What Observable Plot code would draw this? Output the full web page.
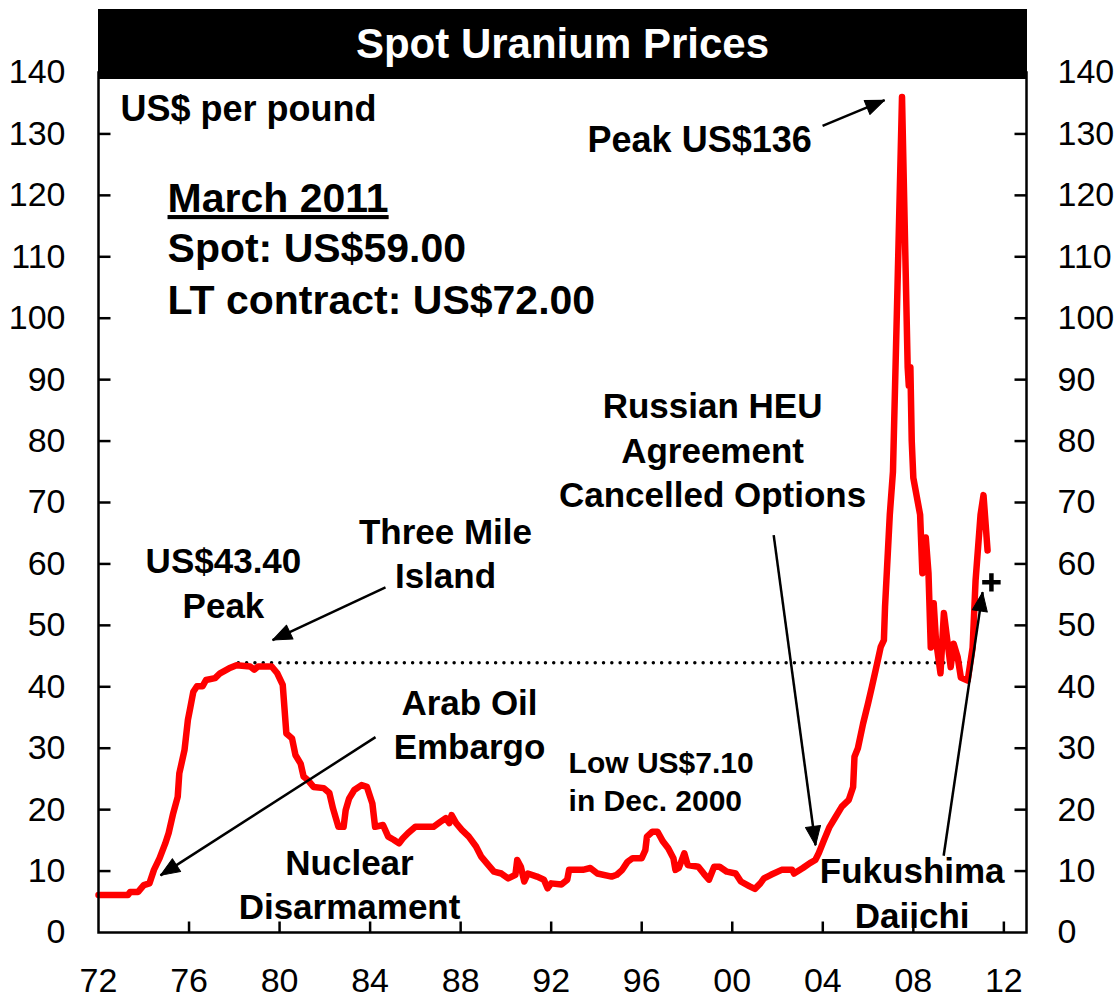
<!DOCTYPE html>
<html><head><meta charset="utf-8">
<script src="https://cdn.jsdelivr.net/npm/d3@7"></script>
<script src="https://cdn.jsdelivr.net/npm/@observablehq/plot@0.6"></script>
<style>
body{margin:0;background:#fff;font-family:"Liberation Sans",Arial,sans-serif;}
#wrap{position:relative;width:1117px;height:1000px;}
#chart{position:absolute;left:0;top:0;}
#title{position:absolute;left:98px;top:9px;width:929px;height:70px;background:#000;color:#fff;font-weight:bold;font-size:42px;line-height:70px;text-align:center;z-index:2;}
</style></head><body>
<div id="wrap"><div id="chart"></div><div id="title">Spot Uranium Prices</div></div>
<script>
const years = [1972.0,1973.3,1973.4,1973.75,1974.0,1974.25,1974.45,1974.7,1974.95,1975.1,1975.3,1975.5,1975.57,1975.8,1975.95,1976.06,1976.19,1976.35,1976.6,1976.75,1977.15,1977.37,1977.77,1978.1,1978.7,1978.88,1979.05,1979.65,1979.9,1980.14,1980.3,1980.55,1980.7,1980.93,1981.06,1981.25,1981.5,1981.95,1982.2,1982.36,1982.6,1982.83,1982.92,1983.07,1983.3,1983.62,1983.86,1984.1,1984.22,1984.57,1984.8,1985.04,1985.28,1985.44,1985.68,1986.0,1986.8,1987.1,1987.34,1987.5,1987.6,1987.8,1988.05,1988.36,1988.68,1988.9,1989.15,1989.47,1989.8,1990.1,1990.42,1990.5,1990.66,1990.81,1990.97,1991.37,1991.68,1991.84,1992.0,1992.45,1992.71,1992.79,1993.4,1993.73,1994.04,1994.67,1994.9,1995.14,1995.37,1995.6,1996.0,1996.16,1996.23,1996.47,1996.7,1996.94,1997.17,1997.4,1997.49,1997.64,1997.88,1998.03,1998.5,1998.74,1998.97,1999.2,1999.44,1999.76,2000.15,2000.38,2000.77,2001.0,2001.24,2001.4,2001.71,2002.18,2002.65,2002.73,2003.12,2003.43,2003.67,2003.82,2004.06,2004.3,2004.53,2004.84,2005.15,2005.34,2005.4,2005.55,2005.78,2006.0,2006.17,2006.4,2006.56,2006.7,2006.75,2006.96,2007.1,2007.3,2007.5,2007.62,2007.75,2007.8,2007.87,2007.93,2008.0,2008.3,2008.4,2008.55,2008.67,2008.77,2008.9,2009.0,2009.2,2009.35,2009.5,2009.65,2009.78,2009.96,2010.1,2010.4,2010.62,2010.75,2010.97,2011.1,2011.28];
const spot = [6.1,6.1,6.6,6.6,7.7,8.0,10.2,12.1,14.5,16.2,19.4,22.1,25.9,29.7,34.6,36.7,39.2,40.1,40.1,41.1,41.4,42.2,43.0,43.5,43.3,42.8,43.3,43.3,42.2,40.3,32.4,31.6,28.9,27.5,25.4,24.8,23.7,23.5,22.7,20.2,17.2,17.2,19.9,21.8,23.2,24.0,23.7,21.0,17.2,17.5,15.6,15.1,14.5,15.3,16.2,17.2,17.2,18.0,18.6,17.8,19.1,17.8,16.7,15.6,14.0,12.4,11.3,9.9,9.6,8.8,9.4,11.8,10.7,8.3,9.6,9.1,8.6,7.2,8.0,7.8,8.6,10.2,10.2,10.5,9.6,9.1,9.4,10.2,11.5,12.1,12.1,13.4,15.6,16.4,16.4,14.8,13.7,12.1,10.2,10.5,12.9,11.0,10.7,9.6,8.6,10.7,10.7,9.9,9.6,8.3,7.5,7.1,8.0,8.8,9.4,10.2,10.2,9.6,10.5,11.3,11.8,12.9,15.1,17.2,18.6,20.5,21.6,23.7,28.6,30.0,34.0,37.3,40.0,43.8,46.5,47.6,53,68,75,105,136,115,92,89,92,80,74,68,58.5,64.3,58.5,46.4,53.6,47.6,42.2,52,47.6,43.2,47,44.8,41.5,41,46.4,57.3,68,71.2,62.2];

const xDomain = [1972, 2013];
const yDomain = [0, 140];
const yTicks = d3.range(0, 150, 10);
const xTicks = d3.range(1972, 2013, 4);
const peakLine = [{x1: 1978.2, x2: 2010.6, y: 43.9}];
const plusMark = [{x: 2011.45, y: 57.0}];

const centerNotes = [
  {text: "Peak US$136", x: 1998.56, y: 129.5, size: 36},
  {text: "US$43.40\nPeak", x: 1977.52, y: 57.2, size: 35},
  {text: "Three Mile\nIsland", x: 1987.33, y: 62.0, size: 35},
  {text: "Arab Oil\nEmbargo", x: 1988.39, y: 34.1, size: 35},
  {text: "Nuclear\nDisarmament", x: 1983.09, y: 8.06, size: 35},
  {text: "Russian HEU\nAgreement\nCancelled Options", x: 1999.13, y: 78.8, size: 35},
  {text: "Fukushima\nDaiichi", x: 2007.95, y: 6.7, size: 35}
];
const startNotes = [
  {text: "US$ per pound", x: 1972.97, y: 134.5, size: 36},
  {text: "March 2011", x: 1975.05, y: 120.0, size: 41},
  {text: "Spot: US$59.00", x: 1975.05, y: 111.9, size: 41},
  {text: "LT contract: US$72.00", x: 1975.05, y: 103.4, size: 41},
  {text: "Low US$7.10\nin Dec. 2000", x: 1992.77, y: 24.9, size: 30}
];
const arrows = [
  {x1: 2003.99, y1: 131.3, x2: 2006.73, y2: 135.5},
  {x1: 1984.68, y1: 56.2, x2: 1979.69, y2: 47.6},
  {x1: 1984.24, y1: 31.8, x2: 1974.74, y2: 9.3},
  {x1: 2001.83, y1: 64.7, x2: 2003.68, y2: 14.2},
  {x1: 2009.34, y1: 12.5, x2: 2011.06, y2: 55.4}
];

const data = years.map((year, i) => ({year, price: spot[i]}));

const lineShape = {draw(ctx, l) { ctx.moveTo(0, 0); ctx.lineTo(0, -l); }};
const headShape = {draw(ctx, l) { ctx.moveTo(0, 0); ctx.lineTo(-l * 0.4, l); ctx.lineTo(l * 0.4, l); ctx.closePath(); }};

function build(headRotate) {
  const marks = [
    Plot.ruleY(peakLine, {x1: "x1", x2: "x2", y: "y", stroke: "black", strokeWidth: 3.5, strokeDasharray: "0,8.3", strokeLinecap: "round"}),
    Plot.line(data, {x: "year", y: "price", stroke: "#ff0000", strokeWidth: 6.5, strokeLinejoin: "round", strokeLinecap: "round"}),
    Plot.link(arrows, {x1: "x1", y1: "y1", x2: "x2", y2: "y2", stroke: "black", strokeWidth: 2.5}),
    Plot.text(centerNotes, {x: "x", y: "y", text: "text", fontSize: d => d.size, fontWeight: "bold", textAnchor: "middle", lineAnchor: "middle", lineHeight: 1.27, fill: "black"}),
    Plot.text(startNotes, {x: "x", y: "y", text: "text", fontSize: d => d.size, fontWeight: "bold", textAnchor: "start", lineAnchor: "middle", lineHeight: 1.27, fill: "black"}),
    Plot.dot(plusMark, {x: "x", y: "y", symbol: "plus", r: 6, stroke: "black", strokeWidth: 4.5, strokeLinecap: "butt"}),
    Plot.frame({stroke: "black", strokeWidth: 2.5}),
    Plot.vector(yTicks.filter(v => v > 0 && v < 140), {x: () => xDomain[0], y: d => d, length: 12, rotate: 90, shape: lineShape, anchor: "start", stroke: "black", strokeWidth: 2.5, strokeLinecap: "butt"}),
    Plot.vector(yTicks.filter(v => v > 0 && v < 140), {x: () => xDomain[1], y: d => d, length: 12, rotate: -90, shape: lineShape, anchor: "start", stroke: "black", strokeWidth: 2.5, strokeLinecap: "butt"}),
    Plot.vector(xTicks.filter(v => v > 1972), {x: d => d, y: () => yDomain[0], length: 11, rotate: 0, shape: lineShape, anchor: "start", stroke: "black", strokeWidth: 2.5, strokeLinecap: "butt"}),
    Plot.axisY({anchor: "left", ticks: yTicks, tickSize: 0, tickPadding: 33, label: null}),
    Plot.axisY({anchor: "right", ticks: yTicks, tickSize: 0, tickPadding: 31, label: null}),
    Plot.axisX({anchor: "bottom", ticks: xTicks, tickSize: 0, tickPadding: 35, tickFormat: d => String(d).slice(-2), label: null})
  ];
  if (headRotate) {
    marks.push(Plot.vector(arrows, {x: "x2", y: "y2", length: 19, rotate: (d, i) => headRotate[i], shape: headShape, anchor: "start", fill: "black", stroke: "black", strokeWidth: 1}));
  }
  return Plot.plot({
    width: 1117, height: 1000,
    marginLeft: 98, marginRight: 91, marginTop: 72, marginBottom: 68,
    x: {domain: xDomain}, y: {domain: yDomain},
    style: {fontFamily: '"Liberation Sans", Arial, sans-serif', fontSize: "34px", background: "white", color: "black"},
    marks
  });
}

const first = build(null);
const sx = first.scale("x"), sy = first.scale("y");
const rot = arrows.map(a => {
  const dx = sx.apply(a.x2) - sx.apply(a.x1);
  const dy = sy.apply(a.y2) - sy.apply(a.y1);
  return Math.atan2(dx, -dy) * 180 / Math.PI;
});
const chart = build(rot);
chart.querySelectorAll("text").forEach(t => {
  if (t.textContent === "March 2011") t.style.textDecoration = "underline";
});
document.getElementById("chart").appendChild(chart);
</script></body></html>
